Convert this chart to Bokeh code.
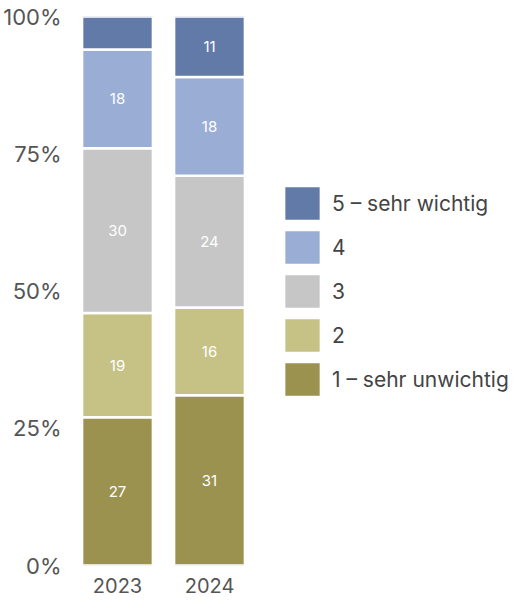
from bokeh.plotting import figure
from bokeh.models import ColumnDataSource, Range1d, FixedTicker, PrintfTickFormatter, Legend, LegendItem, LabelSet
from bokeh.core.properties import value
from bokeh.embed import file_html
from bokeh.resources import INLINE

years = ["2023", "2024"]
levels = ["1", "2", "3", "4", "5"]
level_labels = ["1 – sehr unwichtig", "2", "3", "4", "5 – sehr wichtig"]
v1 = [27, 31]
v2 = [19, 16]
v3 = [30, 24]
v4 = [18, 18]
v5 = [6, 11]
colors = ["#9b924f", "#c6c286", "#c6c6c6", "#9aaed5", "#627aa7"]
y_ticks = [0, 25, 50, 75, 100]

FONT = "Inter"

xpos = [i + 0.5 for i in range(len(years))]
data = {"x": xpos, "1": v1, "2": v2, "3": v3, "4": v4, "5": v5}
source = ColumnDataSource(data)

# frame: 441 px wide, 92 px per category
p = figure(x_range=Range1d(0, 441 / 92), y_range=Range1d(0, 100),
           frame_width=441, frame_height=549, output_backend="svg", toolbar_location=None,
           min_border_left=62, min_border_top=16, min_border_bottom=32, min_border_right=0)

renderers = p.vbar_stack(levels, x="x", width=0.77, color=colors, source=source,
                         line_color="white", line_width=2.5)

# segment labels
lx, ly, lt = [], [], []
series = [v1, v2, v3, v4, v5]
for i, xv in enumerate(xpos):
    base = 0
    for s in series:
        val = s[i]
        if val >= 10:
            lx.append(xv)
            ly.append(base + val / 2)
            lt.append(str(val))
        base += val
lab_src = ColumnDataSource(dict(x=lx, y=ly, t=lt))
labels = LabelSet(x="x", y="y", text="t", source=lab_src, text_color="white",
                  text_font=value(FONT), text_font_size="15px", text_align="center",
                  text_baseline="middle")
p.add_layout(labels)

items = [LegendItem(label=level_labels[k], renderers=[renderers[k]]) for k in range(4, -1, -1)]
legend = Legend(items=items, location=(208, 164), glyph_width=46, glyph_height=44,
                spacing=0, label_text_font=FONT, label_text_font_size="21px",
                label_text_color="#444444", border_line_color=None,
                background_fill_alpha=0, padding=0, margin=0, label_standoff=7,
                label_height=44)
p.add_layout(legend)

p.xaxis.ticker = FixedTicker(ticks=xpos)
p.xaxis.major_label_overrides = {xv: yr for xv, yr in zip(xpos, years)}
p.yaxis.ticker = FixedTicker(ticks=y_ticks)
p.yaxis.formatter = PrintfTickFormatter(format="%d%%")
for ax in [p.xaxis[0], p.yaxis[0]]:
    ax.axis_line_color = None
    ax.major_tick_line_color = None
    ax.minor_tick_line_color = None
    ax.major_label_text_font = FONT
    ax.major_label_text_font_size = "22px"
    ax.major_label_text_color = "#555555"
p.xaxis.major_label_text_font_size = "20px"
p.yaxis.major_label_standoff = 4
p.xaxis.major_label_standoff = 6
p.xgrid.visible = False
p.ygrid.visible = False
p.outline_line_color = None

open("out.html", "w").write(file_html(p, INLINE))
